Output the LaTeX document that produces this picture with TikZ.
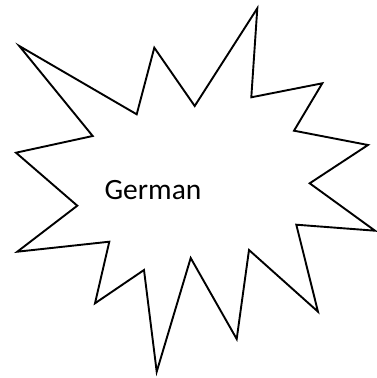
\documentclass[tikz,border=0pt]{standalone}
\usepackage{fontspec}
\setmainfont{Carlito}
\begin{document}
\begin{tikzpicture}[x=1pt,y=-1pt,
  burst/.style={draw=black,line width=1.9pt,line join=miter,fill=white},
  lbl/.style={font=\fontsize{29.5}{32}\selectfont,anchor=base,inner sep=0pt}]
\useasboundingbox (0,0) rectangle (376,378);
\draw[burst] (19.3,46) -- (136.7,114.3) -- (154.3,47.7) -- (194.7,106) -- (257.3,8.3)
 -- (251.3,97.3) -- (322.3,83.3) -- (294,130.7) -- (368,145) -- (309.7,183.3)
 -- (375,230.7) -- (296.3,224.7) -- (318,311.7) -- (249,250) -- (236.7,339)
 -- (190.7,258) -- (156.7,371.7) -- (144,270) -- (95,303.3) -- (109.3,241.7)
 -- (17.3,251.7) -- (77.3,205.7) -- (16,152.7) -- (92.7,136) -- cycle;
\node[lbl] (t) at (153,199.3) {German};
\end{tikzpicture}
\end{document}
